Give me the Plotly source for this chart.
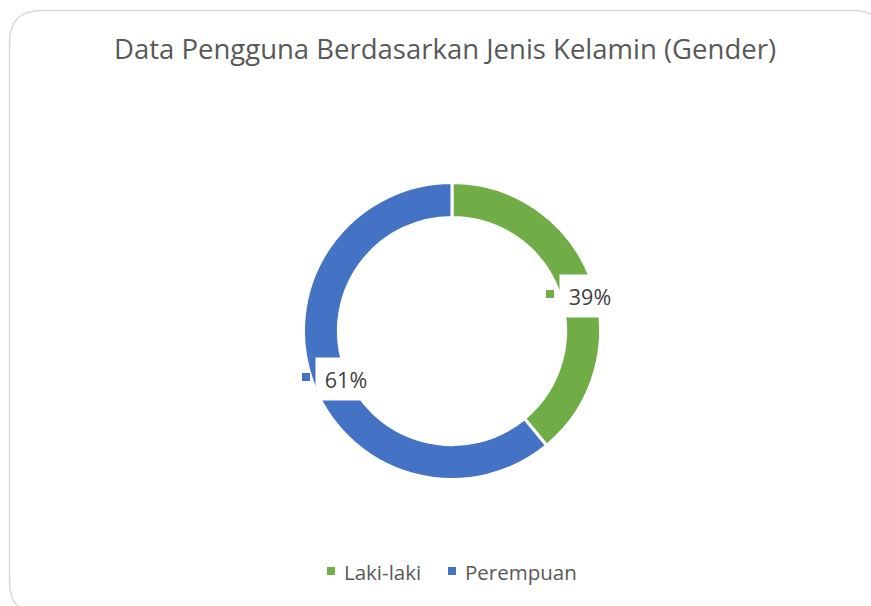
import math
import plotly.graph_objects as go

W, H = 871, 606
categories = ["Laki-laki", "Perempuan"]
values = [39, 61]
colors = ["#70AD47", "#4472C4"]
title_text = "Data Pengguna Berdasarkan Jenis Kelamin (Gender)"

# donut geometry in pixels
cx, cy, r_out = 452, 331, 148.5
hole = 0.765

def px(x):
    return x / W

def py(y):
    return 1 - y / H

fig = go.Figure()
fig.add_trace(go.Pie(
    labels=categories, values=values, hole=hole, sort=False,
    direction="clockwise", rotation=0,
    marker=dict(colors=colors, line=dict(color="white", width=3)),
    textinfo="none", hoverinfo="label+percent",
    domain=dict(x=[px(cx - r_out), px(cx + r_out)], y=[py(cy + r_out), py(cy - r_out)]),
    showlegend=False,
))

# data labels positioned from slice mid-angles
total = sum(values)
cum = 0
r_mid = r_out * (1 + hole) / 2
offsets = [(14.7, 9.4), (17.3, 3.6)]
for i, v in enumerate(values):
    mid = (cum + v / 2) / total * 2 * math.pi
    cum += v
    bx = cx + r_mid * math.sin(mid) + offsets[i][0]
    by = cy - r_mid * math.cos(mid) + offsets[i][1]
    pct = f"{round(v / total * 100)}%"
    fig.add_annotation(x=px(bx), y=py(by), xref="paper", yref="paper",
                       xanchor="center", yanchor="middle",
                       text=pct, showarrow=False, bgcolor="white",
                       width=58, height=40,
                       font=dict(size=21.5, color="#404040", family="Open Sans"))
    sx, sy = bx - 40, by - 2
    fig.add_shape(type="rect", xref="paper", yref="paper", layer="above",
                  x0=px(sx - 4), x1=px(sx + 4), y0=py(sy + 4), y1=py(sy - 4),
                  fillcolor=colors[i], line=dict(width=0))

# legend (drawn manually to match the compact key spacing)
legend_key_x = [331, 452]
legend_y = 572
for i, name in enumerate(categories):
    kx = legend_key_x[i]
    fig.add_shape(type="rect", xref="paper", yref="paper",
                  x0=px(kx - 4), x1=px(kx + 4), y0=py(legend_y - 1 + 4), y1=py(legend_y - 1 - 4),
                  fillcolor=colors[i], line=dict(width=0))
    fig.add_annotation(x=px(kx + 11), y=py(legend_y), xref="paper", yref="paper",
                       xanchor="left", yanchor="middle", showarrow=False,
                       text=name, font=dict(size=20.5, color="#595959", family="Open Sans"))

# rounded border
x0, y0, x1, y1, rr = 9.5, 10.5, 885, 614, 32
path = (f"M {px(x0)},{py(y0 + rr)} Q {px(x0)},{py(y0)} {px(x0 + rr)},{py(y0)} "
        f"L {px(x1 - rr)},{py(y0)} Q {px(x1)},{py(y0)} {px(x1)},{py(y0 + rr)} "
        f"L {px(x1)},{py(y1 - rr)} Q {px(x1)},{py(y1)} {px(x1 - rr)},{py(y1)} "
        f"L {px(x0 + rr)},{py(y1)} Q {px(x0)},{py(y1)} {px(x0)},{py(y1 - rr)} Z")
fig.add_shape(type="path", path=path, xref="paper", yref="paper",
              line=dict(color="#D9D9D9", width=1.5))

fig.update_layout(
    width=W, height=H, margin=dict(l=0, r=0, t=0, b=0),
    paper_bgcolor="white", plot_bgcolor="white",
    title=dict(text=title_text, x=px(445), xanchor="center", y=py(49), yanchor="middle",
               font=dict(size=27.5, color="#595959", family="Open Sans")),
    showlegend=False,
)
fig.write_html("out.html", config={"displayModeBar": False},
               post_script="document.body.style.margin='0';")
